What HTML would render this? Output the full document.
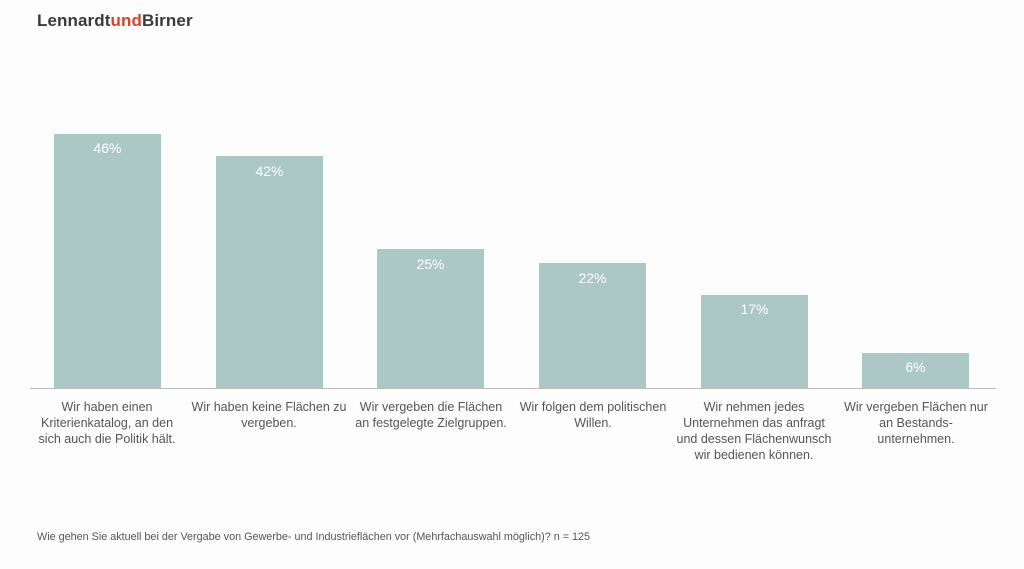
<!DOCTYPE html>
<html><head><meta charset="utf-8"><style>
body{margin:0;width:1024px;height:569px;background:#fdfdfd;position:relative;font-family:"Liberation Sans",sans-serif;overflow:hidden}
.logo{position:absolute;left:37px;top:11px;font-size:17px;font-weight:bold;color:#3a3a3a;letter-spacing:0.1px}
.logo span{color:#d9432a}
.bar{position:absolute;background:#acc8c5;width:107px}
.v{position:absolute;width:107px;text-align:center;color:#fff;font-size:14px}
.l{position:absolute;width:160px;text-align:center;color:#555;font-size:12.5px;line-height:16px;top:399px;white-space:nowrap}
.axis{position:absolute;left:30px;width:966px;top:388px;height:1px;background:#bbb}
.foot{position:absolute;left:37px;top:531px;font-size:10.8px;color:#555}
</style></head><body>
<div class="logo">Lennardt<span>und</span>Birner</div>
<div class="bar" style="left:54px;top:134px;height:254px"></div><div class="v" style="left:54px;top:140px">46%</div>
<div class="bar" style="left:216px;top:156px;height:232px"></div><div class="v" style="left:216px;top:163px">42%</div>
<div class="bar" style="left:377px;top:249px;height:139px"></div><div class="v" style="left:377px;top:256px">25%</div>
<div class="bar" style="left:539px;top:263px;height:125px"></div><div class="v" style="left:539px;top:270px">22%</div>
<div class="bar" style="left:701px;top:295px;height:93px"></div><div class="v" style="left:701px;top:301px">17%</div>
<div class="bar" style="left:862px;top:353px;height:35px"></div><div class="v" style="left:862px;top:359px">6%</div>
<div class="axis"></div>
<div class="l" style="left:27px">Wir haben einen<br>Kriterienkatalog, an den<br>sich auch die Politik hält.</div>
<div class="l" style="left:189px">Wir haben keine Flächen zu<br>vergeben.</div>
<div class="l" style="left:351px">Wir vergeben die Flächen<br>an festgelegte Zielgruppen.</div>
<div class="l" style="left:513px">Wir folgen dem politischen<br>Willen.</div>
<div class="l" style="left:674px">Wir nehmen jedes<br>Unternehmen das anfragt<br>und dessen Flächenwunsch<br>wir bedienen können.</div>
<div class="l" style="left:836px">Wir vergeben Flächen nur<br>an Bestands-<br>unternehmen.</div>
<div class="foot">Wie gehen Sie aktuell bei der Vergabe von Gewerbe- und Industrieflächen vor (Mehrfachauswahl möglich)? n = 125</div>
</body></html>
